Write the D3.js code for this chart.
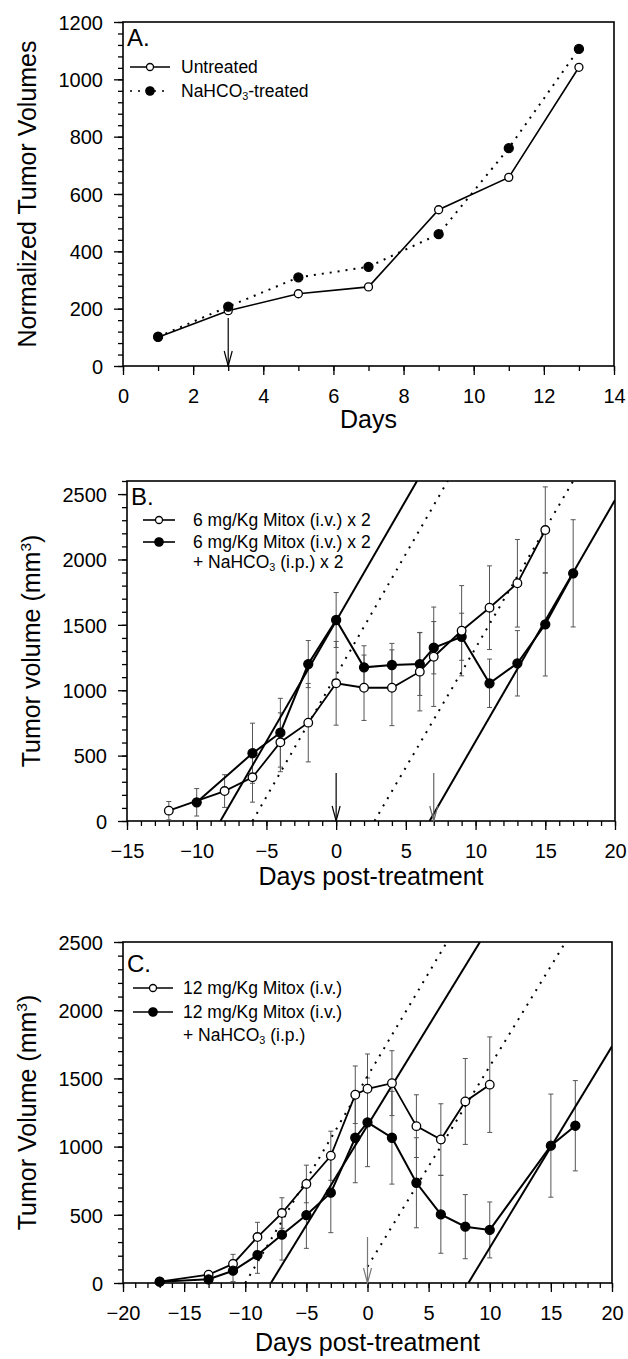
<!DOCTYPE html>
<html>
<head>
<meta charset="utf-8">
<script src="https://cdn.jsdelivr.net/npm/d3@7"></script>
<style>
  body { margin: 0; background: #fff; }
  svg text { font-family: "Liberation Sans", Arial, Helvetica, sans-serif; fill: #000; }
</style>
</head>
<body>
<svg id="chart" width="628" height="1359"></svg>
<script>
// ---- panel A : normalized volumes ----
const daysA = [1, 3, 5, 7, 9, 11, 13];
const untreatedA = [100, 193, 252, 276, 545, 658, 1042];
const treatedA = [102, 207, 309, 346, 460, 760, 1106];
const arrowsA = [3];

// ---- panel B : 6 mg/Kg Mitox x 2 ----
const daysB1 = [-12, -8, -6, -4, -2, 0, 2, 4, 6, 7, 9, 11, 13, 15];
const mitox6 = [79, 229, 334, 602, 752, 1053, 1019, 1019, 1142, 1256, 1455, 1631, 1818, 2225];
const mitox6Err = [70, 125, 190, 225, 300, 320, 250, 290, 300, 380, 345, 320, 335, 330];
const daysB2 = [-10, -6, -4, -2, 0, 2, 4, 6, 7, 9, 11, 13, 15, 17];
const mitox6Na = [143, 518, 675, 1200, 1537, 1175, 1193, 1200, 1325, 1409, 1053, 1206, 1504, 1894];
const mitox6NaErr = [105, 230, 263, 180, 210, 165, 165, 240, 200, 180, 185, 250, 395, 410];
const fitsB = [
  { pts: [[-8.3, 0], [5.8, 2600]], dotted: false },
  { pts: [[-6.0, 0], [8.0, 2600]], dotted: true },
  { pts: [[2.75, 0], [17.0, 2600]], dotted: true },
  { pts: [[6.7, 0], [20, 2454]], dotted: false }
];
const arrowsB = [0, 7];

// ---- panel C : 12 mg/Kg Mitox ----
const daysC1 = [-17, -13, -11, -9, -7, -5, -3, -1, 0, 2, 4, 6, 8, 10];
const mitox12 = [10, 61, 140, 337, 513, 726, 933, 1380, 1424, 1465, 1150, 1052, 1331, 1454];
const mitox12Err = [0, 20, 70, 108, 112, 138, 180, 211, 255, 238, 230, 262, 315, 350];
const daysC2 = [-17, -13, -11, -9, -7, -5, -3, -1, 0, 2, 4, 6, 8, 10, 15, 17];
const mitox12Na = [10, 27, 90, 205, 354, 498, 662, 1065, 1178, 1065, 735, 503, 413, 389, 1007, 1153];
const mitox12NaErr = [0, 15, 80, 134, 186, 244, 293, 330, 325, 340, 330, 285, 235, 205, 378, 331];
const fitsC = [
  { pts: [[-10.0, 0], [6.5, 2500]], dotted: true },
  { pts: [[-7.9, 0], [9.2, 2500]], dotted: false },
  { pts: [[0, 120], [16.2, 2500]], dotted: true },
  { pts: [[8.25, 0], [20, 1735]], dotted: false }
];
const arrowsC = [0];

// tick labels
const xTicksA = [0, 2, 4, 6, 8, 10, 12, 14];
const yTicksA = [0, 200, 400, 600, 800, 1000, 1200];
const xTicksB = [-15, -10, -5, 0, 5, 10, 15, 20];
const yTicksBC = [0, 500, 1000, 1500, 2000, 2500];
const xTicksC = [-20, -15, -10, -5, 0, 5, 10, 15, 20];

const svg = d3.select("#chart");
const zip = (xs, ys, es) => xs.map((d, i) => ({ x: d, y: ys[i], e: es ? es[i] : 0 }));

// write text with sub/superscript pieces
function richText(sel, parts) {
  parts.forEach(p => {
    if (typeof p === "string") {
      sel.append("tspan").text(p);
    } else {
      sel.append("tspan")
        .attr("baseline-shift", p.sub ? "-28%" : "55%")
        .attr("font-size", "0.62em")
        .text(p.sub || p.sup);
    }
  });
}

function drawPanel(p) {
  const x = d3.scaleLinear().domain(p.xDomain).range([p.left, p.right]);
  const y = d3.scaleLinear().domain(p.yDomain).range([p.bottom, p.top]);
  const g = svg.append("g");

  svg.append("clipPath").attr("id", "clip" + p.name)
    .append("rect")
    .attr("x", p.left).attr("y", p.top)
    .attr("width", p.right - p.left).attr("height", p.bottom - p.top);

  // minor ticks
  const xMinor = d3.range(p.xDomain[0], p.xDomain[1] + 0.001, p.xMinor);
  const yMinor = d3.range(p.yDomain[0], p.yDomain[1] + 0.001, p.yMinor);
  g.append("g").attr("transform", `translate(0,${p.bottom})`)
    .call(d3.axisBottom(x).tickValues(xMinor).tickSize(5).tickFormat(""))
    .call(a => a.select(".domain").remove());
  g.append("g").attr("transform", `translate(${p.left},0)`)
    .call(d3.axisLeft(y).tickValues(yMinor).tickSize(5).tickFormat(""))
    .call(a => a.select(".domain").remove());

  // major ticks + labels
  const xAxis = g.append("g").attr("transform", `translate(0,${p.bottom})`)
    .call(d3.axisBottom(x).tickValues(p.xTicks).tickSize(9).tickFormat(d3.format("d")));
  xAxis.selectAll("text").attr("y", 37).attr("dy", null).attr("font-size", 20);
  const yAxis = g.append("g").attr("transform", `translate(${p.left},0)`)
    .call(d3.axisLeft(y).tickValues(p.yTicks).tickSize(9).tickPadding(11).tickFormat(d3.format("d")));
  yAxis.selectAll("text").attr("font-size", 20).attr("dy", "0.36em");
  g.selectAll(".domain").remove();
  g.selectAll(".tick line").attr("stroke", "#000").attr("stroke-width", 1.3);

  // frame
  g.append("rect")
    .attr("x", p.left).attr("y", p.top)
    .attr("width", p.right - p.left).attr("height", p.bottom - p.top)
    .attr("fill", "none").attr("stroke", "#000").attr("stroke-width", 1.6);

  // axis titles
  g.append("text")
    .attr("x", (p.left + p.right) / 2).attr("y", p.bottom + p.xTitleGap)
    .attr("text-anchor", "middle").attr("font-size", 25)
    .text(p.xTitle);
  const yt = g.append("text")
    .attr("transform", `translate(${p.yTitleX},${(p.top + p.bottom) / 2}) rotate(-90)`)
    .attr("text-anchor", "middle").attr("font-size", 25);
  richText(yt, p.yTitle);

  // panel letter
  g.append("text").attr("x", p.left + 4).attr("y", p.top + p.letterDy)
    .attr("font-size", 24).text(p.letter);

  return { x, y, g, clip: `url(#clip${p.name})` };
}

function drawErrors(P, data, color) {
  const cap = 2.5;
  const eg = P.g.append("g").attr("stroke", color).attr("stroke-width", 1).attr("fill", "none");
  data.filter(d => d.e > 0).forEach(d => {
    const cx = P.x(d.x), y0 = P.y(d.y - d.e), y1 = P.y(d.y + d.e);
    eg.append("line").attr("x1", cx).attr("x2", cx).attr("y1", y0).attr("y2", y1);
    eg.append("line").attr("x1", cx - cap).attr("x2", cx + cap).attr("y1", y0).attr("y2", y0);
    eg.append("line").attr("x1", cx - cap).attr("x2", cx + cap).attr("y1", y1).attr("y2", y1);
  });
}

function drawFits(P, fits) {
  const line = d3.line().x(d => P.x(d[0])).y(d => P.y(d[1]));
  P.g.append("g").attr("clip-path", P.clip)
    .selectAll("path").data(fits).join("path")
    .attr("d", d => line(d.pts))
    .attr("fill", "none").attr("stroke", "#000")
    .attr("stroke-width", 2)
    .attr("stroke-dasharray", d => d.dotted ? "2,6.5" : null);
}

function drawSeries(P, data, opts) {
  const line = d3.line().x(d => P.x(d.x)).y(d => P.y(d.y));
  P.g.append("path").datum(data)
    .attr("d", line)
    .attr("fill", "none").attr("stroke", "#000")
    .attr("stroke-width", opts.width)
    .attr("stroke-dasharray", opts.dotted ? "2,6" : null);
  P.g.append("g").selectAll("circle").data(data).join("circle")
    .attr("cx", d => P.x(d.x)).attr("cy", d => P.y(d.y))
    .attr("r", opts.r)
    .attr("fill", opts.open ? "#fff" : "#000")
    .attr("stroke", "#000").attr("stroke-width", 1.3);
}

function drawArrows(P, xs, color, len) {
  xs.forEach(v => {
    const ax = P.x(v), tip = P.y(0);
    const a = P.g.append("g").attr("stroke", color).attr("stroke-width", 1.2).attr("fill", "none");
    a.append("line").attr("x1", ax).attr("x2", ax).attr("y1", tip - len).attr("y2", tip);
    a.append("polyline").attr("points", `${ax - 4},${tip - 15} ${ax},${tip} ${ax + 4},${tip - 15}`);
  });
}

function drawLegend(P, entries, x0, x1, tx, ys) {
  entries.forEach((e, i) => {
    const ly = ys[i];
    P.g.append("line").attr("x1", x0).attr("x2", x1).attr("y1", ly).attr("y2", ly)
      .attr("stroke", "#000").attr("stroke-width", 1.6)
      .attr("stroke-dasharray", e.dotted ? "2,6" : null);
    P.g.append("circle").attr("cx", (x0 + x1) / 2).attr("cy", ly).attr("r", e.r)
      .attr("fill", e.open ? "#fff" : "#000").attr("stroke", "#000").attr("stroke-width", 1.3);
    e.lines.forEach((ln, k) => {
      const t = P.g.append("text").attr("x", tx).attr("y", ys[i + k]).attr("dy", "0.36em")
        .attr("font-size", 17.5);
      richText(t, ln);
    });
  });
}

// ---------- Panel A ----------
const A = drawPanel({
  name: "A", left: 123, right: 614, top: 22, bottom: 366,
  xDomain: [0, 14], yDomain: [0, 1200], xMinor: 1, yMinor: 40,
  xTicks: xTicksA, yTicks: yTicksA,
  xTitle: "Days", yTitle: ["Normalized Tumor Volumes"],
  xTitleGap: 62, yTitleX: 36, letter: "A.", letterDy: 24
});
drawArrows(A, arrowsA, "#000", 48);
drawSeries(A, zip(daysA, untreatedA), { open: true, dotted: false, width: 1.6, r: 4 });
drawSeries(A, zip(daysA, treatedA), { open: false, dotted: true, width: 2, r: 4.5 });
drawLegend(A, [
  { open: true, dotted: false, r: 3.5, lines: [["Untreated"]] },
  { open: false, dotted: true, r: 4.2, lines: [["NaHCO", { sub: "3" }, "-treated"]] }
], 130, 170, 181, [67, 91]);

// ---------- Panel B ----------
const B = drawPanel({
  name: "B", left: 127, right: 615, top: 481, bottom: 821,
  xDomain: [-15, 20], yDomain: [0, 2600], xMinor: 1, yMinor: 100,
  xTicks: xTicksB, yTicks: yTicksBC,
  xTitle: "Days post-treatment", yTitle: ["Tumor volume (mm", { sup: "3" }, ")"],
  xTitleGap: 64, yTitleX: 40, letter: "B.", letterDy: 24
});
drawErrors(B, zip(daysB1, mitox6, mitox6Err), "#555");
drawErrors(B, zip(daysB2, mitox6Na, mitox6NaErr), "#555");
drawFits(B, fitsB);
drawArrows(B, [arrowsB[0]], "#000", 48);
drawArrows(B, [arrowsB[1]], "#666", 48);
drawSeries(B, zip(daysB2, mitox6Na), { open: false, dotted: false, width: 2, r: 4.5 });
drawSeries(B, zip(daysB1, mitox6), { open: true, dotted: false, width: 1.8, r: 4.3 });
drawLegend(B, [
  { open: true, r: 3.5, lines: [["6 mg/Kg Mitox (i.v.) x 2"]] },
  { open: false, r: 4.2, lines: [["6 mg/Kg Mitox (i.v.) x 2"], ["+ NaHCO", { sub: "3" }, " (i.p.) x 2"]] }
], 143, 175, 193, [520, 542, 562]);

// ---------- Panel C ----------
const C = drawPanel({
  name: "C", left: 123, right: 612, top: 942, bottom: 1283,
  xDomain: [-20, 20], yDomain: [0, 2500], xMinor: 1, yMinor: 100,
  xTicks: xTicksC, yTicks: yTicksBC,
  xTitle: "Days post-treatment", yTitle: ["Tumor Volume (mm", { sup: "3" }, ")"],
  xTitleGap: 68, yTitleX: 36, letter: "C.", letterDy: 30
});
drawErrors(C, zip(daysC1, mitox12, mitox12Err), "#555");
drawErrors(C, zip(daysC2, mitox12Na, mitox12NaErr), "#555");
drawFits(C, fitsC);
drawArrows(C, arrowsC, "#777", 46);
drawSeries(C, zip(daysC1, mitox12), { open: true, dotted: false, width: 1.8, r: 4.3 });
drawSeries(C, zip(daysC2, mitox12Na), { open: false, dotted: false, width: 2, r: 4.5 });
drawLegend(C, [
  { open: true, r: 3.5, lines: [["12 mg/Kg Mitox (i.v.)"]] },
  { open: false, r: 4.2, lines: [["12 mg/Kg Mitox (i.v.)"], ["+ NaHCO", { sub: "3" }, " (i.p.)"]] }
], 133, 173, 183, [988, 1012, 1035]);
</script>
</body>
</html>
